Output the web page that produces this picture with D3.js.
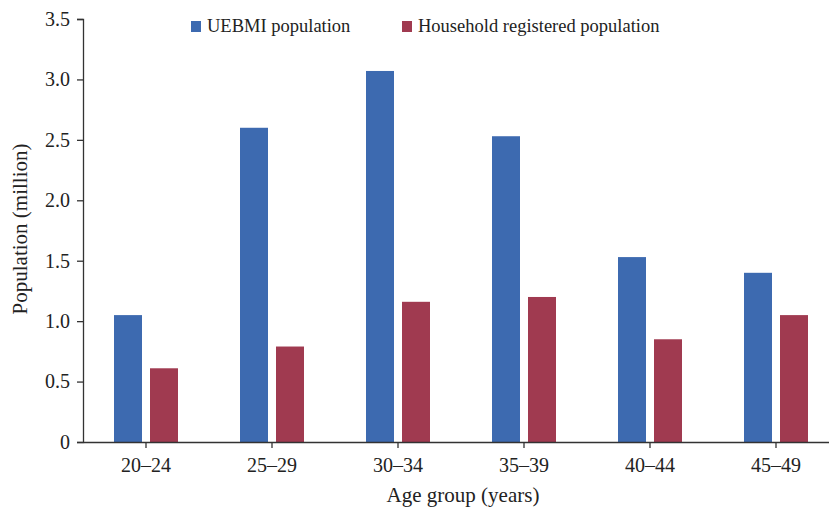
<!DOCTYPE html>
<html>
<head>
<meta charset="utf-8">
<script src="https://cdn.jsdelivr.net/npm/d3@7"></script>
<style>
  body { margin: 0; background: #fff; }
  svg text { font-family: "Liberation Serif", "Times New Roman", serif; fill: #222; }
</style>
</head>
<body>
<div id="chart"></div>
<script>
let ageGroups = ["20\u201324", "25\u201329", "30\u201334", "35\u201339", "40\u201344", "45\u201349"];
let uebmiValues = [1.05, 2.60, 3.07, 2.53, 1.53, 1.40];
let householdValues = [0.61, 0.79, 1.16, 1.20, 0.85, 1.05];
let seriesNames = ["UEBMI population", "Household registered population"];
let seriesColors = ["#3D6AB0", "#A03A50"];
let yTicks = [0, 0.5, 1.0, 1.5, 2.0, 2.5, 3.0, 3.5];

let width = 829, height = 510;
let marginLeft = 83, axisBottom = 442, axisTop = 19;
let step = 126;

let svg = d3.select("#chart").append("svg")
    .attr("width", width)
    .attr("height", height);

let x = d3.scaleBand()
    .domain(ageGroups)
    .range([marginLeft, marginLeft + step * ageGroups.length])
    .padding(0);

let y = d3.scaleLinear()
    .domain([0, 3.5])
    .range([axisBottom, axisTop]);

let barW = 28, gap = 8;
let series = [uebmiValues, householdValues];

//bars
series.forEach(function (vals, s) {
    svg.append("g").selectAll("rect")
        .data(vals)
        .enter().append("rect")
        .attr("x", (d, i) => x(ageGroups[i]) + x.bandwidth() / 2 + (s === 0 ? -gap / 2 - barW : gap / 2))
        .attr("y", d => y(d))
        .attr("width", barW)
        .attr("height", d => axisBottom - y(d))
        .style("fill", seriesColors[s]);
});

//y axis
let yAxis = svg.append("g")
    .attr("transform", "translate(" + marginLeft + ",0)")
    .call(d3.axisLeft(y).tickValues(yTicks).tickFormat(d => d === 0 ? "0" : d3.format(".1f")(d)).tickSize(6).tickPadding(7));
yAxis.select(".domain").attr("stroke", "#333").attr("stroke-width", 1.3);
yAxis.selectAll(".tick line").attr("stroke", "#333").attr("stroke-width", 1.3);
yAxis.selectAll("text").attr("font-size", 20).attr("fill", "#222");

//x axis
let xAxis = svg.append("g")
    .attr("transform", "translate(0," + axisBottom + ")")
    .call(d3.axisBottom(x).tickSize(6).tickSizeOuter(0).tickPadding(10));
xAxis.select(".domain").attr("stroke", "#333").attr("stroke-width", 1.3);
xAxis.selectAll(".tick line").attr("stroke", "#333").attr("stroke-width", 1.3);
xAxis.selectAll("text").attr("font-size", 20).attr("fill", "#222");

//axis titles
svg.append("text")
    .attr("x", 463)
    .attr("y", 502)
    .attr("text-anchor", "middle")
    .attr("font-size", 21)
    .text("Age group (years)");

svg.append("text")
    .attr("transform", "translate(27," + 229 + ") rotate(-90)")
    .attr("text-anchor", "middle")
    .attr("font-size", 21)
    .text("Population (million)");

//legend
let legendX = [191, 402];
seriesNames.forEach(function (name, i) {
    let g = svg.append("g").attr("transform", "translate(" + legendX[i] + ",21)");
    g.append("rect")
        .attr("width", 10)
        .attr("height", 11)
        .style("fill", seriesColors[i]);
    g.append("text")
        .attr("x", 16)
        .attr("y", 11)
        .attr("font-size", 18.5)
        .text(name);
});
</script>
</body>
</html>
